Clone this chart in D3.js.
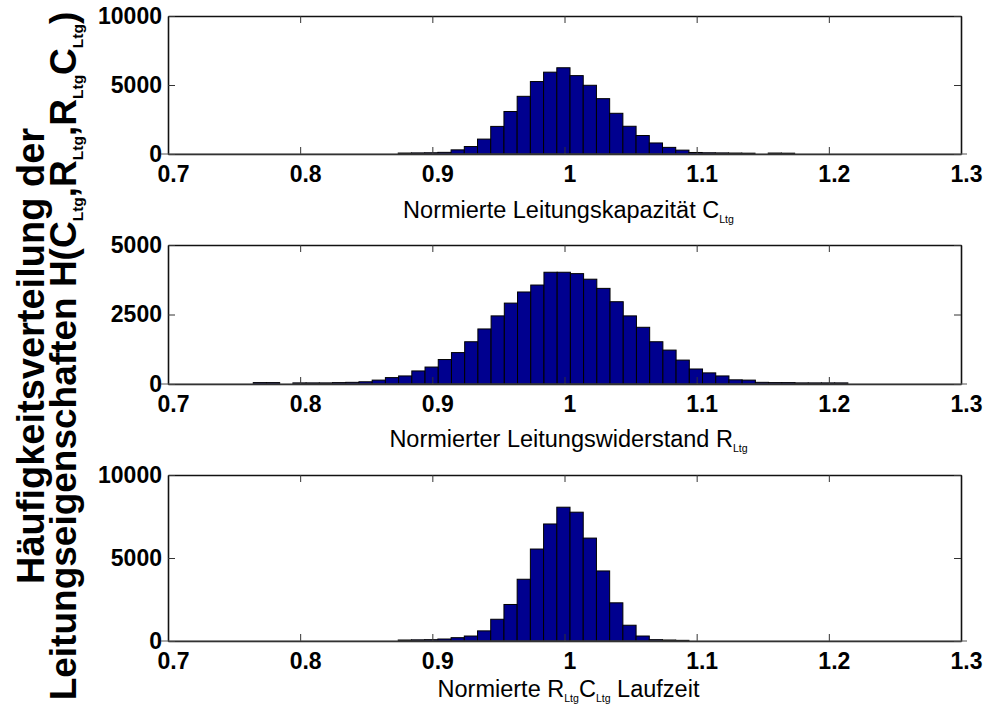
<!DOCTYPE html>
<html>
<head>
<meta charset="utf-8">
<script src="https://cdn.jsdelivr.net/npm/d3@7"></script>
<style>
  body { margin: 0; background: #fff; }
  svg text { font-family: "Liberation Sans", Arial, Helvetica, sans-serif; fill: #000; }
</style>
</head>
<body>
<svg id="chart" width="987" height="708"></svg>
<script>
// Shared x axis: normalised line parameter
const xTicks = [0.7, 0.8, 0.9, 1.0, 1.1, 1.2, 1.3];
const xTickLabels = ["0.7", "0.8", "0.9", "1", "1.1", "1.2", "1.3"];

// Histogram bin width (same for all three panels)
const binWidth = 0.009998;

// Panel 1: normalised line capacitance C_Ltg
const capStart = 0.8742;
const capCounts = [70, 80, 90, 120, 300, 540, 1080, 2000, 3080, 4180, 5250, 5930, 6250, 5680, 4980,
                   4010, 2950, 2010, 1340, 800, 480, 280, 110, 90, 80, 70, 60, 0, 70, 60];
const capYTicks = [0, 5000, 10000];

// Panel 2: normalised line resistance R_Ltg
const resStart = 0.7645;
const resCounts = [50, 50, 0, 40, 40, 40, 50, 60, 80, 140, 230, 290, 470, 610, 880, 1130, 1520,
                   1980, 2450, 2910, 3310, 3560, 4020, 4020, 3970, 3770, 3440, 2960, 2450, 2040,
                   1520, 1220, 860, 540, 400, 290, 150, 140, 60, 50, 50, 40, 40, 40, 40];
const resYTicks = [0, 2500, 5000];

// Panel 3: normalised R_Ltg*C_Ltg delay
const delayStart = 0.8742;
const delayCounts = [60, 70, 80, 120, 200, 300, 610, 1310, 2200, 3720, 5540, 7050, 8060, 7760,
                     6200, 4220, 2300, 950, 300, 80, 60, 40];
const delayYTicks = [0, 5000, 10000];

// Axis titles as [text, subscript?] runs
const capLabel = [["Normierte Leitungskapazität C", false], ["Ltg", true]];
const resLabel = [["Normierter Leitungswiderstand R", false], ["Ltg", true]];
const delayLabel = [["Normierte R", false], ["Ltg", true], ["C", false], ["Ltg", true], [" Laufzeit", false]];
const yLabelLine1 = [["Häufigkeitsverteilung der", false]];
const yLabelLine2 = [["Leitungseigenschaften H(C", false], ["Ltg", true], [",R", false], ["Ltg", true],
                     [",R", false], ["Ltg", true], ["C", false], ["Ltg", true], [")", false]];

const svg = d3.select("#chart");
const left = 168, right = 961;
const barFill = "#00008f";
const tickFont = 23, titleFont = 23.5;

const panels = [
  { start: capStart, counts: capCounts, yTicks: capYTicks, top: 16, bottom: 154, title: 218, label: capLabel },
  { start: resStart, counts: resCounts, yTicks: resYTicks, top: 245, bottom: 384, title: 447, label: resLabel },
  { start: delayStart, counts: delayCounts, yTicks: delayYTicks, top: 475, bottom: 641, title: 697, label: delayLabel }
];

function addRuns(textSel, runs, size, subScale) {
  runs.forEach(([t, sub], i) => {
    const prevSub = i > 0 && runs[i - 1][1];
    const ts = textSel.append("tspan").text(t);
    if (sub) ts.attr("font-size", size * subScale).attr("dy", size * 0.2);
    else if (prevSub) ts.attr("dy", -size * 0.2);
  });
}

const x = d3.scaleLinear().domain([0.7, 1.3]).range([left, right]);

panels.forEach(p => {
  const yMax = d3.max(p.yTicks);
  const y = d3.scaleLinear().domain([0, yMax]).range([p.bottom, p.top]);
  const g = svg.append("g");

  // bars
  g.selectAll("rect.bar")
    .data(p.counts.map((c, i) => ({ c, i })).filter(d => d.c > 0))
    .join("rect")
    .attr("class", "bar")
    .attr("x", d => x(p.start + d.i * binWidth))
    .attr("width", d => x(p.start + (d.i + 1) * binWidth) - x(p.start + d.i * binWidth))
    .attr("y", d => y(d.c))
    .attr("height", d => p.bottom - y(d.c))
    .attr("fill", barFill)
    .attr("stroke", "#000")
    .attr("stroke-width", 1);

  // box axes with inward ticks
  const axB = g.append("g").attr("transform", `translate(0,${p.bottom})`)
    .call(d3.axisBottom(x).tickValues(xTicks).tickFormat((d, i) => xTickLabels[i])
      .tickSizeInner(-7).tickSizeOuter(0).tickPadding(12));
  axB.selectAll(".tick text").attr("dx", 5);
  const axT = g.append("g").attr("transform", `translate(0,${p.top})`)
    .call(d3.axisTop(x).tickValues(xTicks).tickFormat("").tickSizeInner(-7).tickSizeOuter(0));
  const axL = g.append("g").attr("transform", `translate(${left},0)`)
    .call(d3.axisLeft(y).tickValues(p.yTicks).tickFormat(d3.format("d"))
      .tickSizeInner(-7).tickSizeOuter(0).tickPadding(6));
  const axR = g.append("g").attr("transform", `translate(${right},0)`)
    .call(d3.axisRight(y).tickValues(p.yTicks).tickFormat("").tickSizeInner(-7).tickSizeOuter(0));

  [axB, axT, axL, axR].forEach(a => {
    a.select(".domain").attr("stroke", "#111").attr("stroke-width", 1.6);
    a.selectAll(".tick line").attr("stroke", "#333").attr("stroke-width", 1);
    a.selectAll(".tick text").attr("font-size", tickFont).attr("font-weight", "bold")
      .attr("font-family", "Liberation Sans, Arial, sans-serif").attr("fill", "#000");
  });

  // baseline runs a little beyond the box on both sides
  g.append("line").attr("x1", left - 7).attr("x2", right + 6)
    .attr("y1", p.bottom).attr("y2", p.bottom)
    .attr("stroke", "#555").attr("stroke-width", 1);

  // x axis title
  const t = g.append("text")
    .attr("x", (left + right) / 2 + 4)
    .attr("y", p.title)
    .attr("text-anchor", "middle")
    .attr("font-size", titleFont);
  addRuns(t, p.label, titleFont, 0.45);
});

// shared y axis title (two lines, rotated)
const yCenter = 356;
[[yLabelLine1, 44, 38], [yLabelLine2, 76, 37]].forEach(([runs, bx, fs]) => {
  const t = svg.append("text")
    .attr("transform", `translate(${bx},${yCenter}) rotate(-90)`)
    .attr("text-anchor", "middle")
    .attr("font-size", fs)
    .attr("font-weight", "bold");
  addRuns(t, runs, fs, 0.42);
});
</script>
</body>
</html>
